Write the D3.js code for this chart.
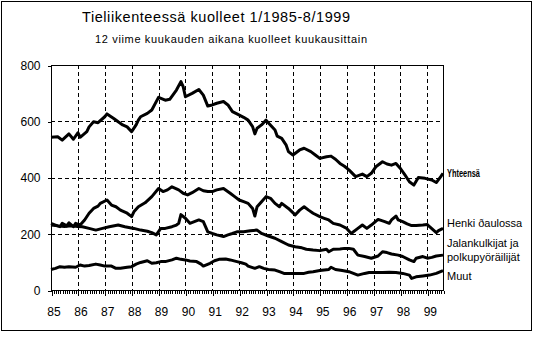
<!DOCTYPE html>
<html>
<head>
<meta charset="utf-8">
<script src="https://cdn.jsdelivr.net/npm/d3@7"></script>
<style>
  body { margin: 0; background: #fff; }
  text { font-family: "Liberation Sans", Arial, sans-serif; fill: #000; }
</style>
</head>
<body>
<div id="chart"></div>
<script>
// Monthly values, [month index from 1/1985, value]
var seriesNames = ["Yhteensä", "Henkilöautossa", "Jalankulkijat ja polkupyöräilijät", "Muut"];

var total = [[0,543],[3,545],[5,533],[8,555],[10,536],[12,559],[13,543],[16,563],[17,580],[19,598],[21,595],[24,616],[25,626],[28,610],[30,598],[32,587],[34,580],[36,563],[38,587],[39,604],[40,616],[43,628],[45,640],[48,685],[51,675],[53,678],[56,711],[58,741],[59,723],[60,687],[63,699],[66,713],[68,693],[70,654],[72,658],[74,664],[77,670],[79,658],[81,634],[83,626],[86,614],[88,604],[90,581],[91,555],[92,575],[94,587],[96,604],[97,595],[100,569],[101,547],[103,539],[105,515],[106,492],[108,480],[111,498],[113,504],[116,492],[118,480],[120,468],[123,474],[125,476],[127,465],[129,450],[131,440],[133,427],[136,403],[139,412],[141,403],[143,415],[145,438],[148,456],[150,448],[152,444],[154,450],[156,432],[158,409],[160,385],[162,373],[164,400],[167,397],[170,391],[172,382],[174,403],[175,415]];

var car = [[0,237],[2,231],[4,225],[5,237],[7,228],[8,239],[10,225],[11,237],[13,231],[15,249],[17,273],[19,290],[21,298],[22,308],[25,320],[27,302],[29,296],[31,284],[34,273],[36,261],[37,278],[39,296],[42,310],[45,332],[48,361],[50,350],[52,356],[54,367],[57,356],[59,344],[61,338],[63,346],[66,361],[68,353],[70,350],[72,350],[74,356],[77,361],[80,344],[82,332],[84,320],[86,314],[88,308],[90,290],[91,263],[92,296],[94,314],[96,332],[98,326],[100,308],[102,296],[103,308],[106,290],[109,267],[111,284],[113,296],[115,284],[117,273],[120,261],[122,255],[124,249],[126,237],[129,231],[132,219],[134,201],[137,219],[139,231],[141,219],[143,231],[146,251],[149,243],[151,237],[152,249],[154,263],[155,249],[157,243],[159,235],[161,229],[163,229],[166,231],[168,233],[169,225],[172,204],[173,211],[175,219]];

var pedestrian = [[0,231],[3,228],[6,226],[9,228],[12,226],[14,225],[17,219],[20,213],[23,219],[26,225],[30,231],[33,225],[37,219],[40,213],[43,209],[45,204],[47,196],[49,219],[51,219],[54,225],[56,231],[57,237],[58,268],[60,255],[62,237],[64,243],[66,249],[68,243],[70,207],[72,201],[74,196],[77,190],[79,196],[81,201],[83,207],[86,207],[89,211],[92,213],[94,201],[97,192],[100,184],[103,172],[106,160],[109,154],[112,150],[114,145],[117,142],[120,140],[123,145],[124,136],[126,145],[129,146],[131,148],[133,148],[135,145],[137,124],[140,119],[143,113],[146,121],[148,136],[150,133],[152,128],[155,124],[157,119],[160,107],[162,101],[163,113],[166,119],[168,113],[170,116],[172,121],[175,124]];

var other = [[0,73],[2,77],[4,83],[6,81],[8,83],[11,81],[13,89],[15,85],[17,87],[20,92],[22,89],[24,85],[27,85],[29,77],[31,77],[34,81],[36,83],[38,92],[40,98],[43,104],[45,95],[47,97],[49,101],[51,101],[54,107],[56,113],[58,109],[60,107],[62,103],[65,101],[67,92],[68,85],[71,95],[73,104],[75,109],[78,110],[80,107],[83,101],[85,97],[87,92],[88,85],[91,77],[93,83],[95,77],[97,73],[100,71],[102,65],[104,59],[107,59],[110,59],[113,59],[115,63],[117,65],[120,69],[122,71],[124,73],[125,81],[127,73],[130,69],[133,65],[135,59],[137,53],[140,59],[142,62],[145,62],[148,62],[151,63],[154,62],[157,59],[160,53],[161,41],[163,47],[166,50],[169,53],[172,59],[175,69]];

var yearLabels = ["85","86","87","88","89","90","91","92","93","94","95","96","97","98","99"];
var yTicks = [0, 200, 400, 600, 800];

var width = 541, height = 338;
var margin = { top: 65, right: 98, bottom: 48, left: 51 };

var svg = d3.select("#chart").append("svg")
    .attr("width", width)
    .attr("height", height);

// outer frame
svg.append("rect")
    .attr("x", 1.5).attr("y", 1.5)
    .attr("width", 530).attr("height", 329)
    .attr("fill", "none").attr("stroke", "#000");

// titles
svg.append("text")
    .attr("x", 82).attr("y", 22)
    .attr("textLength", 268)
    .style("font-size", "14.5px")
    .text("Tieliikenteessä kuolleet 1/1985-8/1999");

svg.append("text")
    .attr("x", 95).attr("y", 43)
    .attr("textLength", 272)
    .style("font-size", "11px")
    .text("12 viime kuukauden aikana kuolleet kuukausittain");

var x = d3.scaleLinear().domain([0, 175]).range([margin.left, width - margin.right]);
var y = d3.scaleLinear().domain([0, 800]).range([height - margin.bottom, margin.top]);

var g = svg.append("g").attr("shape-rendering", "crispEdges");

// dashed grid
var years = d3.range(1, yearLabels.length).map(function(i){ return i * 12; });
g.selectAll(".vgrid").data(years).enter().append("line")
    .attr("x1", function(d){ return Math.round(x(d)) + 0.5; })
    .attr("x2", function(d){ return Math.round(x(d)) + 0.5; })
    .attr("y1", y(800)).attr("y2", y(0))
    .attr("stroke", "#000").attr("stroke-dasharray", "4,3");

g.selectAll(".hgrid").data([200, 400, 600]).enter().append("line")
    .attr("x1", x(0)).attr("x2", x(175))
    .attr("y1", function(d){ return Math.round(y(d)) + 0.5; })
    .attr("y2", function(d){ return Math.round(y(d)) + 0.5; })
    .attr("stroke", "#000").attr("stroke-dasharray", "4,3");

// plot frame
g.append("rect")
    .attr("x", x(0) + 0.5).attr("y", y(800) + 0.5)
    .attr("width", x(175) - x(0)).attr("height", y(0) - y(800))
    .attr("fill", "none").attr("stroke", "#000");

// y axis
var yAxis = d3.axisLeft(y).tickValues(yTicks).tickSize(4).tickPadding(7);
var yg = svg.append("g")
    .attr("transform", "translate(" + (x(0) + 0.5) + ",0.5)")
    .call(yAxis);
yg.select(".domain").remove();
yg.selectAll("text").style("font-size", "12px").attr("font-family", null);

// x axis: monthly minor ticks, yearly major ticks
var months = d3.range(0, 176);
var xMinor = svg.append("g")
    .attr("transform", "translate(0.5," + (y(0) + 0.5) + ")")
    .call(d3.axisBottom(x).tickValues(months).tickSize(3).tickFormat(""));
xMinor.select(".domain").remove();

var yearPos = d3.range(0, yearLabels.length).map(function(i){ return i * 12; });
var xMajor = svg.append("g")
    .attr("transform", "translate(0.5," + (y(0) + 0.5) + ")")
    .call(d3.axisBottom(x).tickValues(yearPos).tickSize(5).tickPadding(12)
        .tickFormat(function(d, i){ return yearLabels[i]; }));
xMajor.select(".domain").remove();
xMajor.selectAll("text").style("font-size", "12px").attr("font-family", null).attr("dx", 2);
svg.selectAll(".tick line").attr("shape-rendering", "crispEdges");

// lines
var line = d3.line()
    .x(function(d){ return x(d[0]); })
    .y(function(d){ return y(d[1]); });

[total, car, pedestrian, other].forEach(function(s){
    svg.append("path")
        .datum(s)
        .attr("d", line)
        .attr("fill", "none")
        .attr("stroke", "#000")
        .attr("stroke-width", 3)
        .attr("stroke-linejoin", "round");
});

// series labels
var lx = x(175) + 4;
svg.append("text").attr("x", lx).attr("y", 177)
    .attr("textLength", 33).attr("lengthAdjust", "spacingAndGlyphs")
    .style("font-size", "10.5px").style("font-weight", "bold")
    .text("Yhteensä");
svg.append("text").attr("x", lx).attr("y", 227)
    .style("font-size", "11px")
    .text("Henki ðaulossa");
svg.append("text").attr("x", lx).attr("y", 247)
    .style("font-size", "11px")
    .text("Jalankulkijat ja");
svg.append("text").attr("x", lx).attr("y", 261)
    .style("font-size", "11px")
    .text("polkupyöräilijät");
svg.append("text").attr("x", lx).attr("y", 280)
    .style("font-size", "11px")
    .text("Muut");
</script>
</body>
</html>
